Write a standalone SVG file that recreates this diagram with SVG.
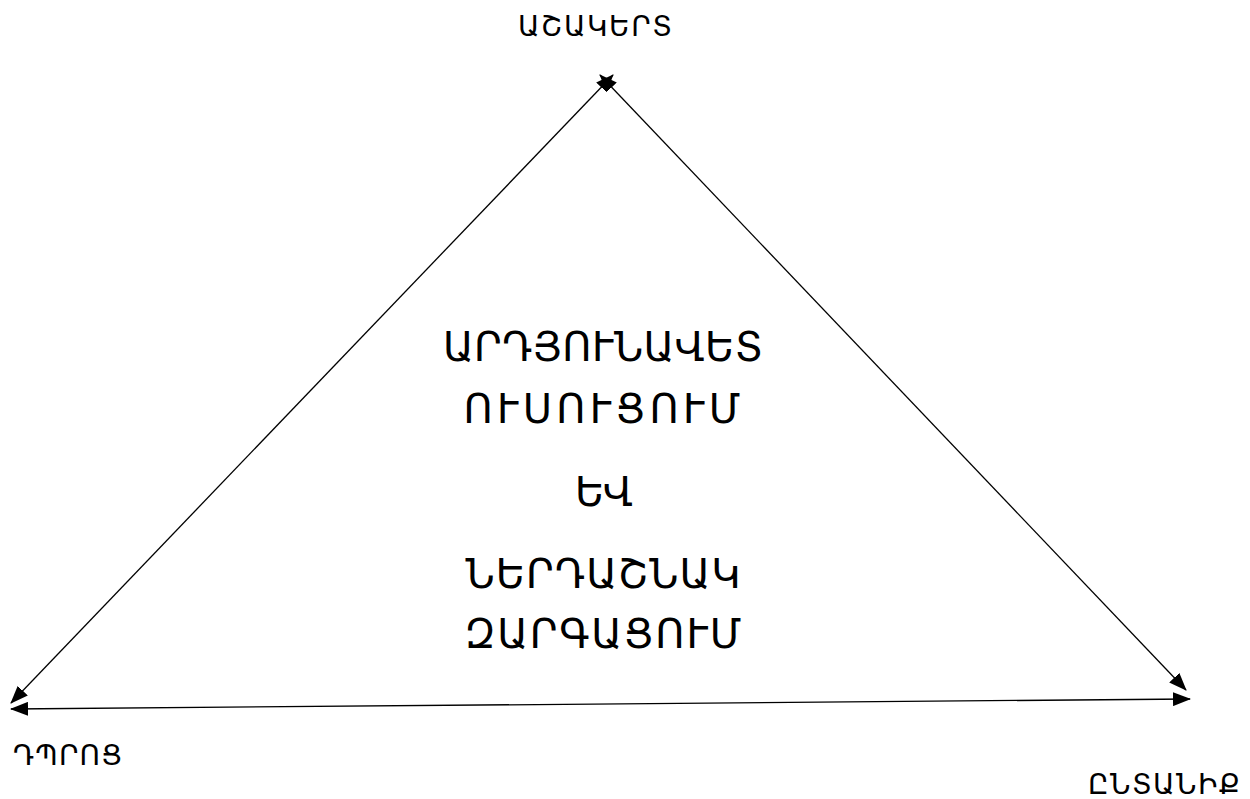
<svg xmlns="http://www.w3.org/2000/svg" width="1250" height="799" viewBox="0 0 1250 799">
<style>
.t{font-family:"DejaVu Sans","Noto Sans",sans-serif;fill:#000}
.s{font-size:28px}
.c{font-size:40px;text-anchor:middle}
.ln{stroke:#000;stroke-width:1.3;fill:none;marker-start:url(#ah);marker-end:url(#ah)}
</style>
<defs>
<marker id="ah" viewBox="0 0 18 14" refX="17" refY="7" markerWidth="18" markerHeight="14" markerUnits="userSpaceOnUse" orient="auto-start-reverse">
<path d="M0,0 L18,7 L0,14 z" fill="#000"/>
</marker>
</defs>
<rect width="1250" height="799" fill="#fff"/>
<g id="connectors">
<line class="ln" x1="11" y1="703" x2="613" y2="75"/>
<line class="ln" x1="1186" y1="690" x2="600" y2="75"/>
<line class="ln" x1="11" y1="709" x2="1190" y2="699"/>
</g>
<g id="student"><text class="t s" x="518" y="36" textLength="154">ԱՇԱԿԵՐՏ</text></g>
<g id="school"><text class="t s" x="13" y="765" textLength="109">ԴՊՐՈՑ</text></g>
<g id="family"><text class="t s" x="1088" y="794" textLength="152">ԸՆՏԱՆԻՔ</text></g>
<g id="center">
<text class="t c" x="603" y="361" textLength="320">ԱՐԴՅՈՒՆԱՎԵՏ</text>
<text class="t c" x="602" y="423" textLength="277">ՈՒՍՈՒՑՈՒՄ</text>
<text class="t c" x="604" y="506" textLength="58">ԵՎ</text>
<text class="t c" x="603" y="588" textLength="275">ՆԵՐԴԱՇՆԱԿ</text>
<text class="t c" x="603" y="648" textLength="277">ԶԱՐԳԱՑՈՒՄ</text>
</g>
</svg>
